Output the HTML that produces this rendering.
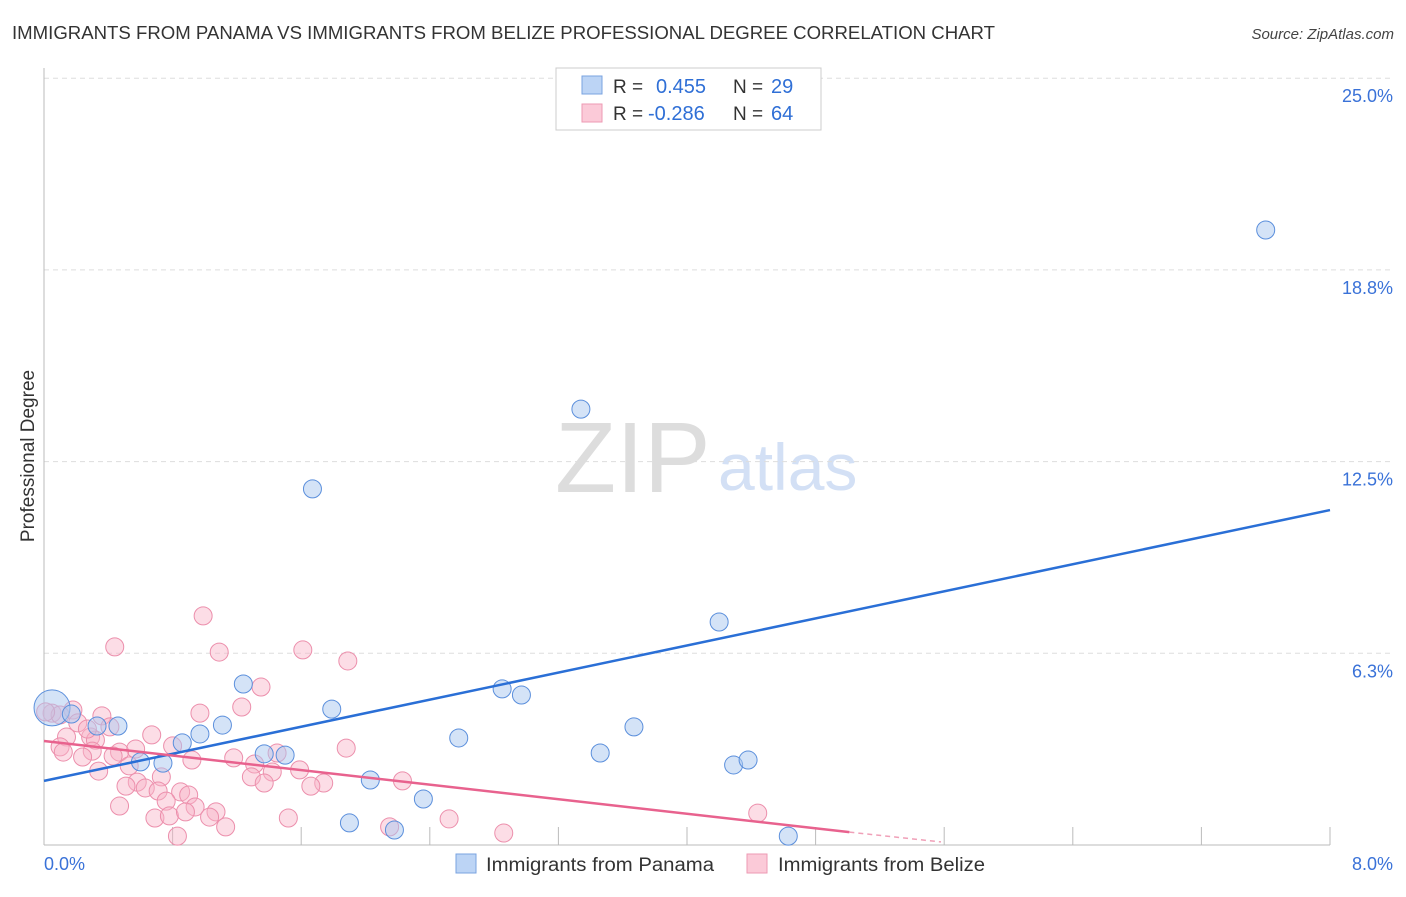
<!DOCTYPE html>
<html><head><meta charset="utf-8"><style>
body{margin:0;background:#fff;font-family:"Liberation Sans",sans-serif;}
svg text{font-family:"Liberation Sans",sans-serif;}
</style></head><body>
<svg id="c" width="1406" height="892">
<text x="12" y="39" font-size="18" fill="#333" textLength="983" lengthAdjust="spacingAndGlyphs">IMMIGRANTS FROM PANAMA VS IMMIGRANTS FROM BELIZE PROFESSIONAL DEGREE CORRELATION CHART</text>
<text x="1394" y="39" font-size="15" fill="#444" text-anchor="end" font-style="italic">Source: ZipAtlas.com</text>
<text x="34" y="456" font-size="19" fill="#333" text-anchor="middle" transform="rotate(-90 34 456)">Professional Degree</text>
<text x="555" y="492" font-size="100" fill="#ddd" font-family="Liberation Serif">ZIP</text>
<text x="718" y="490" font-size="66" fill="#d3e0f5">atlas</text>
<g id="grid"></g><g id="pts"></g><g id="lines"></g>
<g>
<rect x="556" y="68" width="265" height="62" fill="#fff" stroke="#ccc"/>
<rect x="582" y="76" width="20" height="18" fill="#bcd4f5" stroke="#7aa3e0"/>
<rect x="582" y="104" width="20" height="18" fill="#fbcad8" stroke="#ee9ab3"/>
<text x="613" y="93" font-size="19" fill="#333">R =</text><text x="656" y="93" font-size="20" fill="#2f6fd6">0.455</text>
<text x="733" y="93" font-size="19" fill="#333">N =</text><text x="771" y="93" font-size="20" fill="#2f6fd6">29</text>
<text x="613" y="120" font-size="19" fill="#333">R =</text><text x="648" y="120" font-size="20" fill="#2f6fd6">-0.286</text>
<text x="733" y="120" font-size="19" fill="#333">N =</text><text x="771" y="120" font-size="20" fill="#2f6fd6">64</text>
</g>
<g>
<rect x="456" y="854" width="20" height="19" fill="#bcd4f5" stroke="#7aa3e0"/>
<text x="486" y="871" font-size="19" fill="#333" textLength="228" lengthAdjust="spacingAndGlyphs">Immigrants from Panama</text>
<rect x="747" y="854" width="20" height="19" fill="#fbcad8" stroke="#ee9ab3"/>
<text x="778" y="871" font-size="19" fill="#333" textLength="207" lengthAdjust="spacingAndGlyphs">Immigrants from Belize</text>
</g>
</svg>
<script>
const yTicks=[25,18.75,12.5,6.25];
const yTickLabels=["25.0%","18.8%","12.5%","6.3%"];
const xTicks=[0,0.8,1.6,2.4,3.2,4,4.8,5.6,6.4,7.2,8];
const panamaX=[0.05,0.17,0.33,0.46,0.60,0.74,0.86,0.97,1.11,1.24,1.37,1.50,1.67,1.79,1.90,2.03,2.18,2.36,2.58,2.85,2.97,3.34,3.46,3.67,4.20,4.29,4.38,4.63,7.60];
const panamaY=[4.47,4.27,3.88,3.88,2.71,2.67,3.33,3.62,3.91,5.25,2.97,2.93,11.61,4.43,0.72,2.12,0.49,1.50,3.49,5.09,4.89,14.21,3.00,3.85,7.27,2.61,2.77,0.29,20.05];
const belizeX=[0.99,0.44,1.09,1.61,1.89,1.35,1.23,0.97,0.36,0.18,0.05,0.10,0.21,0.41,0.29,0.67,0.14,0.80,0.10,0.32,0.57,0.47,0.30,0.12,0.24,1.45,1.88,1.18,0.92,1.31,0.34,0.53,1.29,1.42,1.59,2.23,1.74,1.66,1.37,0.73,0.58,0.51,0.63,0.71,0.85,0.90,0.76,0.47,0.94,1.07,1.52,0.69,0.78,0.88,1.03,1.13,2.15,2.52,0.83,2.86,4.44,0.01,0.43,0.27];
const belizeY=[7.47,6.46,6.29,6.36,6.00,5.15,4.50,4.30,4.21,4.40,4.30,4.24,3.98,3.85,3.52,3.59,3.52,3.23,3.20,3.42,3.13,3.03,3.06,3.03,2.87,3.00,3.16,2.84,2.77,2.64,2.41,2.58,2.22,2.38,2.45,2.09,2.02,1.92,2.02,2.22,2.05,1.92,1.86,1.76,1.73,1.63,1.43,1.27,1.24,1.08,0.88,0.88,0.95,1.08,0.91,0.59,0.59,0.85,0.29,0.39,1.04,4.34,2.90,3.78];
const panamaTrend=[[0,2.09],[8,10.92]];
const belizeTrend=[[0,3.39],[5.01,0.42]];
const belizeTrendExt=[[5.01,0.42],[5.58,0.10]];
const X=v=>44+v/8*1286, Y=v=>845-v/6.25*191.7;
const NS="http://www.w3.org/2000/svg";
function mk(t,a,p){const e=document.createElementNS(NS,t);for(const k in a)e.setAttribute(k,a[k]);p.appendChild(e);return e;}
const g=document.getElementById('grid');
yTicks.forEach((t,i)=>{
 const l=mk('line',{x1:44,x2:1394,y1:Y(t),y2:Y(t),stroke:'#ddd','stroke-dasharray':'5,4'},g);
 
 
 const tx=mk('text',{x:1393,y:Y(t)+24,'font-size':18,fill:'#3a72d8','text-anchor':'end'},g);tx.textContent=yTickLabels[i];
 
 
});
const ax=mk('line',{x1:44,x2:44,y1:68,y2:845,stroke:'#bbb'},g);


const bx=mk('line',{x1:44,x2:1330,y1:845,y2:845,stroke:'#bbb'},g);


xTicks.forEach(t=>{const l=mk('line',{x1:X(t),x2:X(t),y1:827,y2:845,stroke:'#bbb'},g);
 
 });
const xl=mk('text',{x:44,y:870,'font-size':18,fill:'#3a72d8'},g);xl.textContent=xTicks[0].toFixed(1)+'%';


const xr=mk('text',{x:1393,y:870,'font-size':18,fill:'#3a72d8','text-anchor':'end'},g);xr.textContent=xTicks[xTicks.length-1].toFixed(1)+'%';


const p=document.getElementById('pts');
belizeX.forEach((x,i)=>{const c=mk('circle',{cx:X(x),cy:Y(belizeY[i]),r:9,fill:'rgba(248,180,200,0.45)',stroke:'#ec8fac','stroke-width':1},p);
 
 });
panamaX.forEach((x,i)=>{const c=mk('circle',{cx:X(x),cy:Y(panamaY[i]),r:i===0?18:9,fill:'rgba(170,200,240,0.5)',stroke:'#5b8fdc','stroke-width':1},p);
 
 });
const L=document.getElementById('lines');
const a=mk('line',{x1:X(panamaTrend[0][0]),y1:Y(panamaTrend[0][1]),x2:X(panamaTrend[1][0]),y2:Y(panamaTrend[1][1]),stroke:'#2a6fd6','stroke-width':2.5},L);


const b=mk('line',{x1:X(belizeTrend[0][0]),y1:Y(belizeTrend[0][1]),x2:X(belizeTrend[1][0]),y2:Y(belizeTrend[1][1]),stroke:'#e8628e','stroke-width':2.5},L);


const d=mk('line',{x1:X(belizeTrendExt[0][0]),y1:Y(belizeTrendExt[0][1]),x2:X(belizeTrendExt[1][0]),y2:Y(belizeTrendExt[1][1]),stroke:'#f0a0b8','stroke-width':1.5,'stroke-dasharray':'5,4'},L);


</script>
</body></html>
